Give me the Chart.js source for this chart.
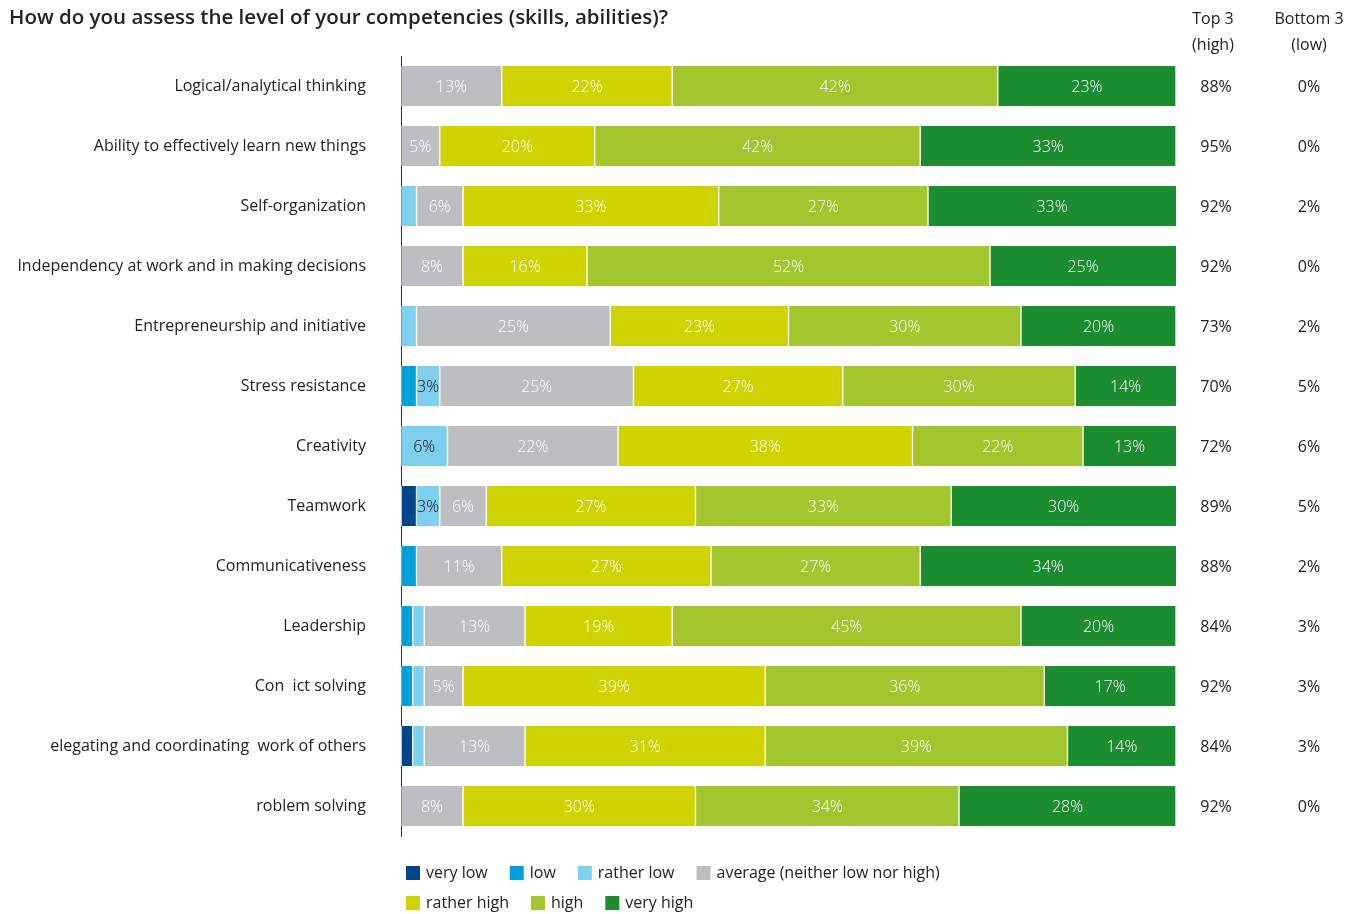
<!DOCTYPE html>
<html>
<head>
<meta charset="utf-8">
<script src="https://cdn.jsdelivr.net/npm/chart.js@4"></script>
<style>
  body { margin: 0; background: #fff; }
  #wrap { position: relative; width: 1358px; height: 914px; }
</style>
</head>
<body>
<div id="wrap"><canvas id="skills"></canvas></div>
<script>
// Competency self-assessment, share of answers per level (%)
const categories = [
    'Logical/analytical thinking',
    'Ability to effectively learn new things',
    'Self-organization',
    'Independency at work and in making decisions',
    'Entrepreneurship and initiative',
    'Stress resistance',
    'Creativity',
    'Teamwork',
    'Communicativeness',
    'Leadership',
    'Con  ict solving',
    'elegating and coordinating  work of others',
    'roblem solving'
];

const veryLow    = [0, 0, 0, 0, 0, 0, 0, 2, 0, 0, 0, 1.5, 0];
const low        = [0, 0, 0, 0, 0, 2, 0, 0, 2, 1.5, 1.5, 0, 0];
const ratherLow  = [0, 0, 2, 0, 2, 3, 6, 3, 0, 1.5, 1.5, 1.5, 0];
const average    = [13, 5, 6, 8, 25, 25, 22, 6, 11, 13, 5, 13, 8];
const ratherHigh = [22, 20, 33, 16, 23, 27, 38, 27, 27, 19, 39, 31, 30];
const high       = [42, 42, 27, 52, 30, 30, 22, 33, 27, 45, 36, 39, 34];
const veryHigh   = [23, 33, 33, 25, 20, 14, 13, 30, 34, 20, 17, 14, 28];

const top3    = [88, 95, 92, 92, 73, 70, 72, 89, 88, 84, 92, 84, 92];
const bottom3 = [0, 0, 2, 0, 2, 5, 6, 5, 2, 3, 3, 3, 0];

const FONT = '"Open Sans", "Noto Sans", sans-serif';
const TEXT = '#222';

// segments narrower than this many % get no label
const MIN_LABEL = 3;

function series(label, data, color, labelColor) {
    return {
        label: label,
        data: data,
        backgroundColor: color,
        borderColor: '#ffffff',
        borderWidth: { left: 1, right: 1, top: 0, bottom: 0 },
        borderSkipped: false,
        barThickness: 40,
        clip: 0,
        labelColor: labelColor
    };
}

const datasets = [
    series('very low', veryLow, '#004489', '#fff'),
    series('low', low, '#00a0dc', '#fff'),
    series('rather low', ratherLow, '#7fcfef', '#111'),
    series('average (neither low nor high)', average, '#bdbec0', '#fff'),
    series('rather high', ratherHigh, '#cfd400', '#fff'),
    series('high', high, '#a3c52d', '#fff'),
    series('very high', veryHigh, '#1b8c2f', '#fff')
];

// Percent labels inside the segments, title, Top/Bottom 3 columns and legend
const decorations = {
    id: 'decorations',
    afterDatasetsDraw(chart) {
        const ctx = chart.ctx;
        const area = chart.chartArea;
        ctx.save();
        ctx.textBaseline = 'middle';
        ctx.textAlign = 'center';
        ctx.font = '300 16px ' + FONT;
        chart.data.datasets.forEach((ds, i) => {
            const meta = chart.getDatasetMeta(i);
            meta.data.forEach((bar, j) => {
                const v = ds.data[j];
                if (v < MIN_LABEL) return;
                const left = Math.max(bar.base, area.left);
                const right = Math.min(bar.x, area.right);
                ctx.fillStyle = ds.labelColor;
                ctx.fillText(v + '%', (left + right) / 2, bar.y + 1);
            });
        });
        ctx.restore();
    },
    afterDraw(chart) {
        const ctx = chart.ctx;
        const yScale = chart.scales.y;
        ctx.save();
        ctx.fillStyle = TEXT;

        // title
        ctx.textAlign = 'left';
        ctx.textBaseline = 'middle';
        ctx.font = '600 20.5px ' + FONT;
        ctx.fillText('How do you assess the level of your competencies (skills, abilities)?', 9, 18);

        // side columns
        const colTop = 1216, colBottom = 1309;
        ctx.textAlign = 'center';
        ctx.font = '16px ' + FONT;
        ctx.fillText('Top 3', colTop - 3, 19);
        ctx.fillText('(high)', colTop - 3, 45);
        ctx.fillText('Bottom 3', colBottom, 19);
        ctx.fillText('(low)', colBottom, 45);
        categories.forEach((c, j) => {
            const y = yScale.getPixelForValue(j) + 1;
            ctx.fillText(top3[j] + '%', colTop, y);
            ctx.fillText(bottom3[j] + '%', colBottom, y);
        });

        // legend, two rows
        ctx.textAlign = 'left';
        let x = 406, y = 873;
        chart.data.datasets.forEach((ds, i) => {
            if (i === 4) { x = 406; y = 903; }
            ctx.fillStyle = ds.backgroundColor;
            ctx.fillRect(x, y - 7, 14, 14);
            ctx.fillStyle = TEXT;
            ctx.fillText(ds.label, x + 20, y);
            x += 20 + ctx.measureText(ds.label).width + 22;
        });
        ctx.restore();
    }
};

const ctx = document.getElementById('skills').getContext('2d');
new Chart(ctx, {
    type: 'bar',
    data: { labels: categories, datasets: datasets },
    options: {
        indexAxis: 'y',
        responsive: true,
        maintainAspectRatio: false,
        animation: false,
        layout: { padding: { left: 0, top: 56, right: 182, bottom: 78 } },
        plugins: {
            legend: { display: false },
            tooltip: { enabled: false }
        },
        scales: {
            x: {
                stacked: true,
                min: 0,
                max: 100,
                display: false
            },
            y: {
                stacked: true,
                afterFit: function (scale) { scale.width = 401; },
                grid: { display: false, drawTicks: false },
                border: { display: true, color: '#333', width: 1 },
                ticks: {
                    padding: 35,
                    color: TEXT,
                    font: { family: FONT, size: 16 }
                }
            }
        }
    },
    plugins: [decorations]
});
</script>
</body>
</html>
